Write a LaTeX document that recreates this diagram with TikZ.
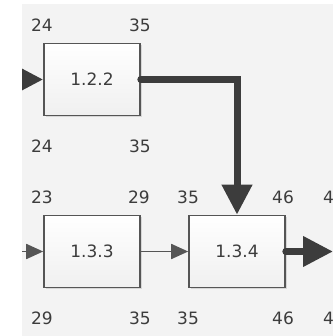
\documentclass[tikz,border=0pt]{standalone}
\usepackage{fontspec}
\setmainfont{DejaVu Sans}
\usetikzlibrary{arrows.meta,shadows}
\definecolor{canvas}{HTML}{F3F3F3}
\definecolor{ink}{HTML}{3C3C3C}
\definecolor{edge}{HTML}{555555}

\begin{document}
\begin{tikzpicture}[x=1pt, y=-1pt,
    block/.style={draw=edge, line width=1.6pt, minimum width=96pt, minimum height=72pt,
        top color=white, bottom color=gray!12, text=ink, font=\fontsize{17}{20}\selectfont,
        drop shadow={shadow xshift=1.5pt, shadow yshift=-1.5pt, opacity=0.25}},
    num/.style={text=ink, inner sep=0pt, font=\fontsize{17}{20}\selectfont},
    fat/.style={draw=ink, line width=7pt, line cap=round, -{Triangle[length=30pt,width=29pt]}},
    thin/.style={draw=edge, line width=1.8pt, -{Triangle[length=17pt,width=15pt]}}]
    \useasboundingbox (0,0) rectangle (333,336);

    \begin{scope}
    \clip (22,4) rectangle (333,336);
    \fill[canvas] (22,4) rectangle (333,336);

    % blocks
    \node[block] (b122) at (92,79.5) {1.2.2};
    \node[block] (b133) at (92,251.5) {1.3.3};
    \node[block] (b134) at (237,251.5) {1.3.4};

    % numbers round the blocks
    \foreach \x/\y/\t [count=\i] in {42/25/24, 140/25/35, 42/146/24, 140/146/35,
        42/197/23, 139/197/29, 188/197/35, 283/197/46, 334/197/46,
        42/318.5/29, 140/318.5/35, 188/318.5/35, 283/318.5/46, 334/318.5/46}
    {
    \node[num] (n\i) at (\x,\y) {\t};
    }

    % loose ends
    \coordinate (in122) at (0,79.5);
    \coordinate (in133) at (0,251.5);
    \coordinate (out134) at (333,251.5);

    \draw[fat] (in122) -- (b122.west);
    \draw[fat] (b122.east) -| (b134.north);
    \draw[fat] (b134.east) -- (out134);
    \draw[thin] (in133) -- (b133.west);
    \draw[thin] (b133.east) -- (b134.west);
    \end{scope}
\end{tikzpicture}
\end{document}
